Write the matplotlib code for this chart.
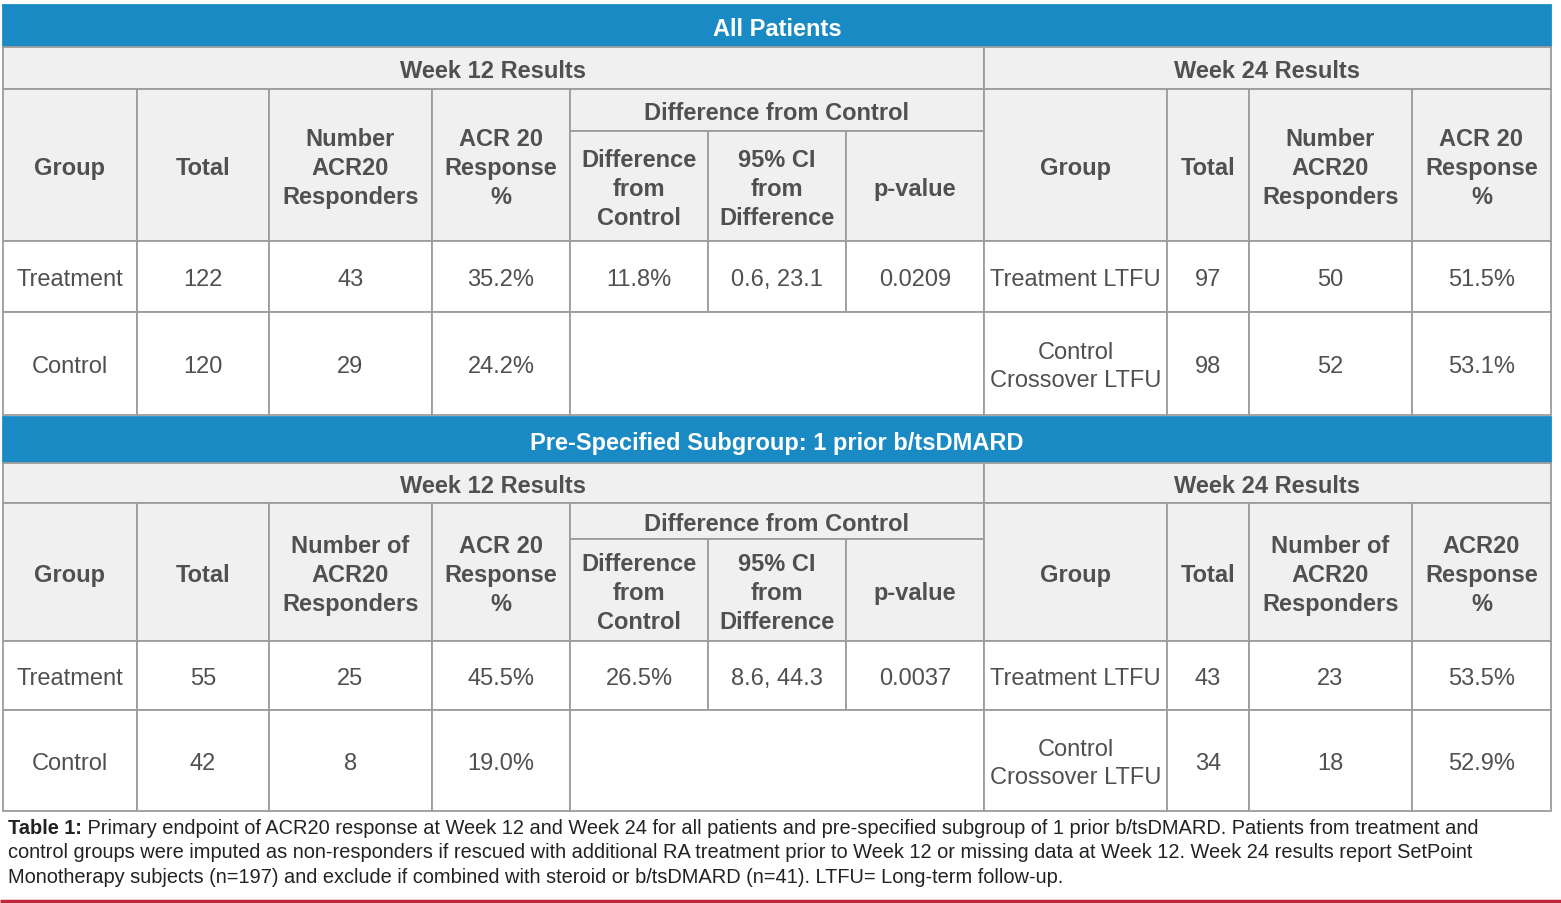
#!/usr/bin/env python3

import matplotlib
matplotlib.use("Agg")
import matplotlib.pyplot as plt
from matplotlib.patches import Rectangle

W, H = 1561, 904

BLUE = "#1a8ac4"
HEAD_BG = "#f0f0f0"
LINE = "#9c9c9c"
TXT = "#505050"
RED = "#c0283a"
FONT = ["Liberation Sans", "DejaVu Sans"]

# column edges (pixels)
col_x = [3, 137, 269, 432, 570, 708, 846, 984, 1167, 1249, 1412, 1551]

# ---- data ----
titles = ["All Patients", "Pre-Specified Subgroup: 1 prior b/tsDMARD"]
week_labels = ["Week 12 Results", "Week 24 Results"]
diff_title = "Difference from Control"

w12_heads_all = ["Group", "Total", "Number\nACR20\nResponders", "ACR 20\nResponse\n%"]
w12_heads_sub = ["Group", "Total", "Number of\nACR20\nResponders", "ACR 20\nResponse\n%"]
diff_heads = ["Difference\nfrom\nControl", "95% CI\nfrom\nDifference", "p-value"]
w24_heads_all = ["Group", "Total", "Number\nACR20\nResponders", "ACR 20\nResponse\n%"]
w24_heads_sub = ["Group", "Total", "Number of\nACR20\nResponders", "ACR20\nResponse\n%"]

groups12 = ["Treatment", "Control"]
groups24 = ["Treatment LTFU", "Control\nCrossover LTFU"]

all_total12 = [122, 120]
all_resp12 = [43, 29]
all_pct12 = ["35.2%", "24.2%"]
all_diff = "11.8%"
all_ci = "0.6, 23.1"
all_p = "0.0209"
all_total24 = [97, 98]
all_resp24 = [50, 52]
all_pct24 = ["51.5%", "53.1%"]

sub_total12 = [55, 42]
sub_resp12 = [25, 8]
sub_pct12 = ["45.5%", "19.0%"]
sub_diff = "26.5%"
sub_ci = "8.6, 44.3"
sub_p = "0.0037"
sub_total24 = [43, 34]
sub_resp24 = [23, 18]
sub_pct24 = ["53.5%", "52.9%"]

caption_bold = "Table 1:"
caption_lines = [
    " Primary endpoint of ACR20 response at Week 12 and Week 24 for all patients and "
    "pre-specified subgroup of 1 prior b/tsDMARD. Patients from treatment and",
    "control groups were imputed as non-responders if rescued with additional RA treatment "
    "prior to Week 12 or missing data at Week 12. Week 24 results report SetPoint",
    "Monotherapy subjects (n=197) and exclude if combined with steroid or b/tsDMARD (n=41). "
    "LTFU= Long-term follow-up.",
]

# row edges of each block: title, week, header, sub-header, row1, row2, end
block_y = [
    [6, 48, 90, 132, 242, 313, 416],
    [418, 464, 504, 540, 642, 711, 812],
]

fig = plt.figure(figsize=(W / 100, H / 100), dpi=100)
ax = fig.add_axes([0, 0, 1, 1])
ax.set_xlim(0, W)
ax.set_ylim(H, 0)
ax.axis("off")


def cell(x0, x1, y0, y1, text="", fc="white", bold=False, color=TXT, size=17, ec=LINE):
    ax.add_patch(Rectangle((x0, y0), x1 - x0, y1 - y0, facecolor=fc,
                           edgecolor=ec, linewidth=1.3))
    if text != "":
        ax.text((x0 + x1) / 2, (y0 + y1) / 2 + 2.5, str(text), ha="center",
                va="center", fontsize=size,
                fontweight="bold" if bold else "normal",
                color=color, family=FONT, linespacing=1.32)


def draw_block(ys, title, h12, h24, total12, resp12, pct12, diff, ci, p,
               total24, resp24, pct24):
    yt, yw, yh, ysub, yr1, yr2, ye = ys
    cx = col_x
    cell(cx[0], cx[-1], yt, yw, title, fc=BLUE, bold=True, color="white", ec=BLUE)
    cell(cx[0], cx[7], yw, yh, week_labels[0], fc=HEAD_BG, bold=True)
    cell(cx[7], cx[11], yw, yh, week_labels[1], fc=HEAD_BG, bold=True)
    for i, h in enumerate(h12):
        cell(cx[i], cx[i + 1], yh, yr1, h, fc=HEAD_BG, bold=True)
    cell(cx[4], cx[7], yh, ysub, diff_title, fc=HEAD_BG, bold=True)
    for i, h in enumerate(diff_heads):
        cell(cx[4 + i], cx[5 + i], ysub, yr1, h, fc=HEAD_BG, bold=True)
    for i, h in enumerate(h24):
        cell(cx[7 + i], cx[8 + i], yh, yr1, h, fc=HEAD_BG, bold=True)

    rows = [(yr1, yr2), (yr2, ye)]
    for r, (y0, y1) in enumerate(rows):
        vals12 = [groups12[r], total12[r], resp12[r], pct12[r]]
        for i, v in enumerate(vals12):
            cell(cx[i], cx[i + 1], y0, y1, v)
        if r == 0:
            for i, v in enumerate([diff, ci, p]):
                cell(cx[4 + i], cx[5 + i], y0, y1, v)
        else:
            cell(cx[4], cx[7], y0, y1)
        vals24 = [groups24[r], total24[r], resp24[r], pct24[r]]
        for i, v in enumerate(vals24):
            cell(cx[7 + i], cx[8 + i], y0, y1, v)


draw_block(block_y[0], titles[0], w12_heads_all, w24_heads_all,
           all_total12, all_resp12, all_pct12, all_diff, all_ci, all_p,
           all_total24, all_resp24, all_pct24)
draw_block(block_y[1], titles[1], w12_heads_sub, w24_heads_sub,
           sub_total12, sub_resp12, sub_pct12, sub_diff, sub_ci, sub_p,
           sub_total24, sub_resp24, sub_pct24)

# caption
cap_size = 14.4
cap_y = [829, 853, 878]
renderer = fig.canvas.get_renderer()
tb = ax.text(8, cap_y[0], caption_bold, ha="left", va="center", fontsize=cap_size,
             fontweight="bold", color="#222222", family=FONT)
bb = tb.get_window_extent(renderer)
x_after = bb.x1  # axes span the whole figure, so pixels == data x
ax.text(x_after, cap_y[0], caption_lines[0], ha="left", va="center",
        fontsize=cap_size, color="#222222", family=FONT)
for line, y in zip(caption_lines[1:], cap_y[1:]):
    ax.text(8, y, line, ha="left", va="center", fontsize=cap_size,
            color="#222222", family=FONT)

# red rule at the bottom
ax.plot([0, W], [901.5, 901.5], color=RED, linewidth=2.5, solid_capstyle="butt")

fig.savefig("out.png", dpi=100)
